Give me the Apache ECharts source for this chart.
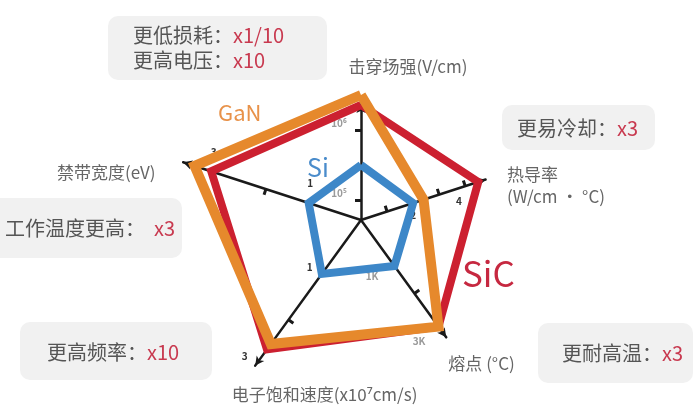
<!DOCTYPE html>
<html>
<head>
<meta charset="utf-8">
<script src="https://cdn.jsdelivr.net/npm/echarts@6/dist/echarts.min.js"></script>
<style>
html,body{margin:0;padding:0;background:#ffffff;}
#chart{width:700px;height:417px;}
</style>
</head>
<body>
<div id="chart"></div>
<script>
// ---- data (indicator order is counter-clockwise from the top, as ECharts lays them out) ----
const indicatorNames = ['击穿场强(V/cm)', '禁带宽度(eV)', '电子饱和速度(x10⁷cm/s)', '熔点 (°C)', '热导率\n(W/cm · °C)'];
const axisMin = [4, 0, 0, 0, 0];          // 击穿场强 in log10(V/cm)
const axisMax = [8, 4, 3, 4400, 7.3];
const siValues  = [5.1, 1.1, 1.0, 1250, 2.0];
const ganValues = [6.5, 3.5, 2.3, 2900, 2.4];
const sicValues = [6.3, 3.15, 2.4, 2900, 4.5];
const tickValues = [[4.4, 5.8], [2], [1.85], [2000], [1, 3, 4]];
const tickLabelValues = [[4.54, 5.93], [1.19, 3.22], [1.02, 2.68], [1140, 2900], [1.86, 3.62]];
const tickLabelTexts = [['10⁵', '10⁶'], ['1', '3'], ['1', '3'], ['1K', '3K'], ['2', '4']];
const seriesNames = ['SiC', 'GaN', 'Si'];

// ---- layout / style ----
const FONT = '"Noto Sans CJK SC", "Noto Sans", sans-serif';
const CENTER = [361, 220];
const DATA_RADIUS = 200;
const spokeLen = [116, 187, 180, 145, 131];
const labelMargin = [22, -19, -14, -24, -12];
const labelColor = ['#9a9a9a', '#333333', '#333333', '#9a9a9a', '#333333'];
const nameLayout = [
  {gap: 29, style: {align: 'center', verticalAlign: 'bottom', padding: [0, 0, 0, 94]}},
  {gap: -35, style: {align: 'right', verticalAlign: 'middle', padding: [0, 61, 0, 0]}},
  {gap: 36, style: {align: 'center', verticalAlign: 'middle', padding: [0, 0, 0, 181]}},
  {gap: 32, style: {align: 'center', verticalAlign: 'middle', padding: [0, 0, 0, 33]}},
  {gap: -21, style: {align: 'left', verticalAlign: 'middle', padding: [0, 0, 0, 41], lineHeight: 22}}
];
const COLORS = {SiC: '#cc2030', GaN: '#e6892c', Si: '#3d87c8'};
const WIDTHS = {SiC: 8, GaN: 10, Si: 8};
const SPOKE = '#1a1a1a';

function labelText(k, v) {
  const vals = tickLabelValues[k];
  let best = 0;
  vals.forEach((x, i) => { if (Math.abs(x - v) < Math.abs(vals[best] - v)) best = i; });
  return tickLabelTexts[k][best];
}

const hidden = {
  axisLine: {show: false}, axisTick: {show: false}, axisLabel: {show: false},
  splitLine: {show: false}, splitArea: {show: false}
};

const dataRadar = Object.assign({
  center: CENTER, radius: DATA_RADIUS, startAngle: 90,
  axisName: {show: false},
  indicator: indicatorNames.map((n, i) => ({name: n, min: axisMin[i], max: axisMax[i]}))
}, hidden);

const spokeRadars = indicatorNames.map((n, k) => Object.assign({
  center: CENTER, radius: spokeLen[k], startAngle: 90, silent: true,
  axisName: {show: true, color: '#666666', fontSize: 17, fontFamily: FONT},
  indicator: indicatorNames.map((m, i) => {
    const mx = axisMin[i] + (axisMax[i] - axisMin[i]) * spokeLen[k] / DATA_RADIUS;
    if (i !== k) return {name: '', min: axisMin[i], max: mx};
    return {
      name: m, min: axisMin[i], max: mx,
      nameGap: nameLayout[k].gap,
      nameTextStyle: Object.assign({color: '#666666', fontSize: 17, fontFamily: FONT}, nameLayout[k].style),
      axisLine: {show: true, symbol: ['none', 'arrow'], symbolSize: [7, 9],
                 lineStyle: {color: SPOKE, width: 2.5}},
      axisTick: {show: true, customValues: tickValues[k], length: 6,
                 lineStyle: {color: SPOKE, width: 3}},
      axisLabel: {show: true, customValues: tickLabelValues[k], margin: labelMargin[k],
                  align: 'center', verticalAlign: 'middle', fontSize: 10, fontWeight: 'bold',
                  fontFamily: FONT, color: labelColor[k],
                  formatter: (v) => labelText(k, v)}
    };
  })
}, hidden));

const valuesByName = {SiC: sicValues, GaN: ganValues, Si: siValues};
const series = seriesNames.map((nm) => ({
  type: 'radar', radarIndex: 0, name: nm, symbol: 'none', silent: true,
  lineStyle: {color: COLORS[nm], width: WIDTHS[nm], join: 'miter', opacity: 1},
  data: [{name: nm, value: valuesByName[nm]}]
}));

// ---- callout annotations ----
const callouts = [
  {x: 108, y: 16, w: 219, h: 64, tx: 133, ty: 48, text: '{g|更低损耗：}{r|x1/10}\n{g|更高电压：}{r|x10}'},
  {x: 502, y: 105, w: 153, h: 45, tx: 517, ty: 128, text: '{g|更易冷却：}{r|x3}'},
  {x: -12, y: 198, w: 194, h: 60, tx: 5, ty: 228, text: '{g|工作温度更高：}{r|  x3}'},
  {x: 20, y: 322, w: 192, h: 58, tx: 47, ty: 352, text: '{g|更高频率：}{r|x10}'},
  {x: 538, y: 323, w: 155, h: 60, tx: 562, ty: 353, text: '{g|更耐高温：}{r|x3}'}
];
const rich = {
  g: {fill: '#555555', fontSize: 20, fontFamily: FONT, lineHeight: 25},
  r: {fill: '#c8394f', fontSize: 20, fontFamily: FONT, lineHeight: 25}
};
const graphics = [];
callouts.forEach((c) => {
  graphics.push({type: 'rect', shape: {x: c.x, y: c.y, width: c.w, height: c.h, r: 10},
                 style: {fill: '#f1f1f1'}, z: 1});
  graphics.push({type: 'text', x: c.tx, y: c.ty, z: 2,
                 style: {text: c.text, rich: rich, verticalAlign: 'middle', align: 'left'}});
});
const seriesTags = [
  {text: 'GaN', x: 218, y: 113, size: 22, color: '#e8924a'},
  {text: 'Si', x: 307, y: 167, size: 25, color: '#4a8ccb'},
  {text: 'SiC', x: 462, y: 274, size: 35, color: '#c62840'}
];
seriesTags.forEach((t) => {
  graphics.push({type: 'text', x: t.x, y: t.y, z: 5,
    style: {text: t.text, fill: t.color, fontSize: t.size, fontFamily: FONT, verticalAlign: 'middle'}});
});

const chart = echarts.init(document.getElementById('chart'), null, {renderer: 'canvas'});
chart.setOption({
  backgroundColor: '#ffffff',
  animation: false,
  radar: [dataRadar].concat(spokeRadars),
  series: series,
  graphic: graphics
});
</script>
</body>
</html>
